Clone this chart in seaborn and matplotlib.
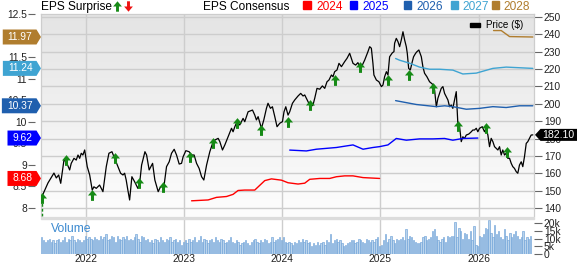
import numpy as np
import pandas as pd
import matplotlib
matplotlib.use("Agg")
import matplotlib.pyplot as plt
import seaborn as sns
from matplotlib.path import Path
from matplotlib.patches import Polygon, Rectangle
from matplotlib.colors import LinearSegmentedColormap

# ---------------- data ----------------
price_t = [2021.547, 2021.613, 2021.674, 2021.698, 2021.722, 2021.743, 2021.776, 2021.799, 2021.834, 2021.850,
           2021.878, 2021.901, 2021.919, 2021.936, 2021.952, 2021.969, 2021.987, 2022.013, 2022.038, 2022.064,
           2022.081, 2022.105, 2022.139, 2022.173, 2022.207, 2022.234, 2022.265, 2022.292, 2022.326, 2022.353,
           2022.377, 2022.394, 2022.410, 2022.427, 2022.445, 2022.468, 2022.496, 2022.512, 2022.529, 2022.547,
           2022.567, 2022.601, 2022.618, 2022.644, 2022.669, 2022.679, 2022.702, 2022.736, 2022.760, 2022.794,
           2022.821, 2022.848, 2022.872, 2022.899, 2022.923, 2022.950, 2022.974, 2022.990, 2023.018, 2023.051,
           2023.076, 2023.102, 2023.127, 2023.153, 2023.178, 2023.201, 2023.229, 2023.262, 2023.290, 2023.313,
           2023.347, 2023.364, 2023.391, 2023.415, 2023.448, 2023.483, 2023.499, 2023.517, 2023.540, 2023.567,
           2023.601, 2023.618, 2023.652, 2023.697, 2023.720, 2023.737, 2023.754, 2023.788, 2023.812, 2023.839,
           2023.855, 2023.880, 2023.900, 2023.924, 2023.947, 2023.975, 2024.002, 2024.018, 2024.036, 2024.059,
           2024.076, 2024.104, 2024.127, 2024.161, 2024.188, 2024.212, 2024.229, 2024.263, 2024.290, 2024.313,
           2024.331, 2024.354, 2024.382, 2024.409, 2024.433, 2024.456, 2024.476, 2024.501, 2024.517, 2024.534,
           2024.558, 2024.578, 2024.603, 2024.636, 2024.660, 2024.687, 2024.704, 2024.721, 2024.748, 2024.771,
           2024.789, 2024.816, 2024.840, 2024.873, 2024.891, 2024.908, 2024.924, 2024.934, 2024.959, 2024.985,
           2025.010, 2025.026, 2025.043, 2025.061, 2025.077, 2025.094, 2025.122, 2025.138, 2025.145, 2025.162,
           2025.179, 2025.196, 2025.213, 2025.230, 2025.247, 2025.264, 2025.274, 2025.288, 2025.305, 2025.325,
           2025.338, 2025.359, 2025.372, 2025.392, 2025.417, 2025.433, 2025.450, 2025.474, 2025.501, 2025.529,
           2025.552, 2025.570, 2025.586, 2025.603, 2025.620, 2025.637, 2025.654, 2025.671, 2025.688, 2025.705,
           2025.722, 2025.738, 2025.756, 2025.773, 2025.789, 2025.807, 2025.824, 2025.840, 2025.858, 2025.875,
           2025.901, 2025.926, 2025.942, 2025.959, 2025.977, 2025.993, 2026.010, 2026.038, 2026.061, 2026.078,
           2026.095, 2026.112, 2026.129, 2026.146, 2026.163, 2026.197, 2026.214, 2026.231, 2026.247, 2026.265,
           2026.282, 2026.298, 2026.316, 2026.333, 2026.349, 2026.366, 2026.384, 2026.400, 2026.417, 2026.435,
           2026.451, 2026.468, 2026.486, 2026.502, 2026.519, 2026.536, 2026.553]
price_v = [146.0, 154.4, 160.1, 157.3, 159.0, 154.2, 167.6, 166.6, 161.9, 165.7,
           168.6, 167.6, 170.5, 168.6, 171.5, 170.5, 173.4, 163.8, 159.0, 150.3,
           152.2, 151.3, 153.2, 149.4, 163.8, 171.5, 172.4, 168.6, 163.8, 160.0,
           159.0, 160.0, 156.1, 150.3, 144.6, 158.0, 155.1, 153.2, 151.3, 154.2,
           164.7, 172.4, 170.5, 161.9, 164.7, 165.7, 156.1, 149.4, 152.2, 152.2,
           163.8, 166.6, 171.5, 173.8, 170.5, 165.3, 165.7, 169.5, 173.0, 172.4,
           170.5, 170.5, 165.7, 162.8, 158.0, 156.1, 164.7, 172.4, 177.2, 179.1,
           180.1, 178.2, 173.4, 176.3, 181.0, 185.9, 183.9, 186.8, 189.7, 187.8,
           191.6, 189.7, 195.4, 196.4, 193.5, 190.7, 192.6, 185.9, 190.7, 197.4,
           200.3, 197.4, 198.3, 192.6, 186.8, 188.8, 189.7, 195.4, 198.3, 193.5,
           195.4, 200.3, 202.2, 204.5, 206.0, 204.5, 205.1, 201.2, 198.3, 199.3,
           203.2, 208.9, 208.4, 210.3, 208.9, 212.7, 213.7, 216.6, 215.6, 218.5,
           219.5, 223.3, 221.4, 224.3, 226.2, 229.1, 226.2, 223.3, 222.3, 223.7,
           221.4, 222.3, 225.2, 230.0, 232.9, 232.0, 223.3, 216.6, 213.7, 212.7,
           209.9, 210.8, 215.6, 218.5, 216.6, 227.1, 229.4, 230.0, 234.9, 237.7,
           235.8, 232.9, 236.8, 241.5, 236.8, 232.9, 229.1, 220.4, 219.5, 224.3,
           227.1, 229.1, 230.0, 231.0, 227.1, 221.4, 217.6, 215.6, 212.7, 211.4,
           208.0, 198.3, 203.2, 206.0, 208.9, 209.9, 206.0, 204.1, 202.2, 198.3,
           199.3, 197.4, 202.2, 207.0, 188.8, 186.8, 178.2, 181.0, 180.1, 182.0,
           182.6, 183.9, 184.9, 184.9, 185.9, 183.9, 185.9, 186.8, 183.9, 185.9,
           182.0, 175.3, 180.1, 178.2, 175.3, 173.4, 175.3, 170.5, 173.4, 170.5,
           171.5, 168.6, 168.6, 165.7, 163.8, 162.8, 160.9, 160.0, 164.7, 166.6,
           163.8, 169.5, 177.2, 178.2, 180.1, 182.0, 182.1]
last_price = 182.10

# EPS consensus by fiscal year
eps24_t = [2023.076, 2023.245, 2023.330, 2023.432, 2023.499, 2023.550, 2023.618, 2023.720, 2023.822, 2023.890,
           2023.992, 2024.059, 2024.161, 2024.229, 2024.280, 2024.382, 2024.483, 2024.552, 2024.636, 2024.721,
           2024.823, 2024.992]
eps24_v = [8.16, 8.18, 8.24, 8.26, 8.31, 8.40, 8.41, 8.41, 8.63, 8.67,
           8.64, 8.58, 8.55, 8.57, 8.66, 8.68, 8.68, 8.72, 8.74, 8.74,
           8.70, 8.68]
eps25_t = [2024.076, 2024.246, 2024.348, 2024.450, 2024.552, 2024.636, 2024.721, 2024.823, 2024.924, 2024.992,
           2025.077, 2025.162, 2025.264, 2025.399, 2025.534, 2025.654, 2025.738, 2025.840, 2025.993]
eps25_v = [9.34, 9.32, 9.36, 9.38, 9.40, 9.43, 9.46, 9.36, 9.40, 9.42,
           9.46, 9.61, 9.57, 9.60, 9.60, 9.61, 9.57, 9.61, 9.62]
eps26_t = [2025.155, 2025.366, 2025.570, 2025.654, 2025.738, 2025.875, 2026.010, 2026.146, 2026.282, 2026.417, 2026.553]
eps26_v = [10.49, 10.40, 10.35, 10.37, 10.35, 10.29, 10.31, 10.35, 10.33, 10.37, 10.37]
eps27_t = [2025.155, 2025.196, 2025.298, 2025.399, 2025.501, 2025.603, 2025.738, 2025.840, 2025.977, 2026.146, 2026.282, 2026.553]
eps27_v = [11.47, 11.43, 11.36, 11.27, 11.22, 11.22, 11.20, 11.11, 11.13, 11.24, 11.27, 11.24]
eps28_t = [2026.153, 2026.231, 2026.316, 2026.553]
eps28_v = [12.12, 12.12, 11.98, 11.97]

consensus_years = ["2024", "2025", "2026", "2027", "2028"]
consensus_colors = ["#ff0000", "#0000ff", "#1f5fae", "#3fa4d2", "#b07d2e"]
consensus_last = [8.68, 9.62, 10.37, 11.24, 11.97]

# EPS surprises (all positive) placed on the price line
surp_t = [2021.552, 2021.793, 2022.061, 2022.292, 2022.539, 2022.787, 2023.059, 2023.290, 2023.540, 2023.788,
          2024.059, 2024.287, 2024.541, 2024.789, 2025.077, 2025.288, 2025.535, 2025.789, 2026.078, 2026.288]
surp_v = [145.6, 167.6, 147.5, 168.6, 154.2, 152.2, 169.5, 177.2, 188.8, 184.9,
          189.7, 199.3, 213.7, 221.4, 213.7, 216.6, 208.9, 187.2, 185.9, 172.4]

# weekly volume (thousands)
vol_start = 2021.55
volume_k = [11, 9, 8, 9, 10, 8, 9, 7, 9, 10, 8, 9, 11, 8, 10, 9, 12, 9, 8, 10, 9, 8, 9,
            12, 10, 11, 10, 9, 11, 10, 9, 12, 10, 11, 13, 9, 10, 12, 11, 8, 12, 10, 9, 11, 10, 12, 9, 10, 9,
            11, 13, 10, 8, 12, 11, 9, 10, 8, 9, 7, 10, 9, 8, 11, 9, 8, 10, 9, 11, 8, 9, 10, 8, 9, 6,
            8, 9, 7, 10, 8, 9, 11, 8, 9, 12, 8, 10, 9, 7, 9, 10, 8, 11, 9, 8, 10, 9, 7, 8, 9, 11,
            8, 7, 9, 8, 6, 7, 8, 9, 7, 6, 8, 9, 10, 8, 7, 9, 8, 10, 9, 7, 8, 11, 8, 9, 10, 11,
            9, 11, 8, 7, 8, 7, 6, 8, 7, 9, 8, 10, 8, 9, 7, 8, 5, 7, 6, 8, 6, 7, 8, 6, 9, 8,
            13, 7, 9, 10, 8, 9, 7, 5, 6, 7, 8, 9, 9, 7, 8, 10, 9, 8, 7, 10, 9, 8, 9, 8, 10, 11,
            5, 6, 9, 13, 8, 10, 12, 9, 7, 10, 9, 10, 11, 9, 16, 10, 12, 11, 9, 8, 7, 7, 8, 11, 12, 9,
            10, 11, 15, 16, 12, 9, 8, 10, 11, 8, 12, 11, 12, 12, 21, 11, 17, 15, 10, 14, 13, 10, 15, 9, 18, 6,
            5, 12, 11, 13, 17, 16, 22, 14, 11, 19, 13, 15, 11, 10, 16, 12, 9, 14, 11, 13, 15, 12, 10, 11, 15, 9,
            11, 10, 12]

year_ticks = [2022, 2023, 2024, 2025, 2026]
year_labels = ["2022", "2023", "2024", "2025", "2026"]
price_ticks = [140, 150, 160, 170, 180, 190, 200, 210, 220, 230, 240, 250]
eps_ticks = [8, 8.5, 9, 9.5, 10, 10.5, 11, 11.5, 12, 12.5]
vol_ticks = [0, 5, 10, 15, 20]
vol_labels = ["0", "5k", "10k", "15k", "20k"]

# ---------------- styling ----------------
sns.set_style("white")
plt.rcParams['font.family'] = ['Liberation Sans', 'DejaVu Sans']

W, H = 579, 264
fig = plt.figure(figsize=(W / 100, H / 100), dpi=100)
fig.patch.set_facecolor("white")

def fx(px):
    return px / W

def fy(py):
    return 1 - py / H

L, R = 41, 533.5
TOP, PBOT = 14, 216.5
VTOP, VBOT = 219, 254
XMIN, XMAX = 2021.542, 2026.560
PMIN, PMAX = 135.08, 251.73
EMIN, EMAX = 7.795, 12.505

GRID = "#cdcdcd"
TICKC = "#666666"
LABC = "#222222"
FS = 7.4
GREEN = "#168a16"

ax_p = fig.add_axes([fx(L), fy(PBOT), fx(R) - fx(L), fy(TOP) - fy(PBOT)])
ax_v = fig.add_axes([fx(L), fy(VBOT), fx(R) - fx(L), fy(VTOP) - fy(VBOT)])
ax_e = ax_p.twinx()

# background gradient
grad = np.linspace(0, 1, 256).reshape(-1, 1)
cmap = LinearSegmentedColormap.from_list("bg", ["#e4e4e4", "#fdfdfd"])
ax_p.imshow(grad, extent=[XMIN, XMAX, PMIN, PMAX], aspect="auto", cmap=cmap, zorder=0, origin="upper")

ax_p.set_xlim(XMIN, XMAX)
ax_p.set_ylim(PMIN, PMAX)
ax_p.set_xticks(year_ticks)
ax_p.grid(True, color=GRID, lw=1.0, zorder=1)
ax_p.set_axisbelow(True)
for s in ["top", "left", "right"]:
    ax_p.spines[s].set_color(GRID)
    ax_p.spines[s].set_linewidth(0.9)
ax_p.spines["bottom"].set_visible(False)

# price line
sns.lineplot(x=price_t, y=price_v, ax=ax_p, color="black", lw=0.9, estimator=None,
             sort=False, legend=False, zorder=3)

# surprise arrows
arrow = Path([(-0.14, -0.5), (0.14, -0.5), (0.14, 0.0), (0.42, 0.0), (0.0, 0.5),
              (-0.42, 0.0), (-0.14, 0.0), (-0.14, -0.5)],
             [Path.MOVETO] + [Path.LINETO] * 6 + [Path.CLOSEPOLY])
ax_p.vlines(surp_t[0], PMIN, surp_v[0] - 2.5, colors=GREEN, linestyles=(0, (2, 1.5)), lw=1.0, zorder=4)
sns.scatterplot(x=surp_t, y=surp_v, ax=ax_p, marker=arrow, s=60, color=GREEN,
                linewidth=0, legend=False, zorder=5)

# price ticks on the right (after twinx)
ax_p.set_ylabel("")
ax_p.yaxis.tick_right()
ax_p.set_yticks(price_ticks)
ax_p.set_yticklabels([str(t) for t in price_ticks])
ax_p.tick_params(axis="y", right=True, left=False, labelright=True, labelleft=False, length=6, width=0.8,
                 color=TICKC, pad=1.5, labelsize=FS, labelcolor=LABC)
ax_p.tick_params(axis="x", bottom=False, labelbottom=False, length=0)

# EPS axis (left)
ax_e.set_ylim(EMIN, EMAX)
ax_e.set_xlim(XMIN, XMAX)
series = [(eps24_t, eps24_v), (eps25_t, eps25_v), (eps26_t, eps26_v), (eps27_t, eps27_v), (eps28_t, eps28_v)]
for (tt, vv), c in zip(series, consensus_colors):
    sns.lineplot(x=tt, y=vv, ax=ax_e, color=c, lw=1.0, estimator=None, sort=False, legend=False, zorder=3)
ax_e.yaxis.tick_left()
ax_e.set_yticks(eps_ticks)
ax_e.set_yticklabels([f"{t:g}" for t in eps_ticks])
ax_e.tick_params(axis="y", left=True, right=False, labelleft=True, labelright=False, length=5, width=0.8,
                 color=TICKC, pad=1, labelsize=FS, labelcolor=LABC)
ax_e.tick_params(axis="x", bottom=False, labelbottom=False, length=0)
ax_e.spines["left"].set_position(("outward", 4))
for s in ax_e.spines.values():
    s.set_visible(False)
ax_e.grid(False)
ax_e.set_ylabel("")

# volume panel
vol_t = vol_start + np.arange(len(volume_k)) / 52.0
ax_v.bar(vol_t, volume_k, width=0.0135, color="#b9d3ec", edgecolor="#6fa3d8", linewidth=0.45, zorder=2)
ax_v.set_xlim(XMIN, XMAX)
ax_v.set_ylim(0, 22.8)
ax_v.set_xticks(year_ticks)
ax_v.set_xticklabels(year_labels)
ax_v.set_yticks(vol_ticks)
ax_v.set_yticklabels(vol_labels)
ax_v.yaxis.tick_right()
ax_v.grid(axis="x", color=GRID, lw=1.0, zorder=1)
ax_v.grid(axis="y", visible=False)
ax_v.set_axisbelow(True)
ax_v.tick_params(axis="y", right=True, left=False, length=6, width=0.8, color=TICKC, pad=1.5,
                 labelsize=FS, labelcolor=LABC)
ax_v.tick_params(axis="x", bottom=False, length=0, pad=0.3, labelsize=FS, labelcolor=LABC)
for s in ax_v.spines.values():
    s.set_visible(False)
ax_v.set_facecolor("white")

# separator band
fig.patches.append(Rectangle((fx(L), fy(VTOP)), fx(R) - fx(L), (VTOP - PBOT) / H,
                             transform=fig.transFigure, color="#dcdcdc", zorder=1))

fig.text(fx(51), fy(229.5), "Volume", color="#3c8ad0", fontsize=8.7, va="center", ha="left")

# header legend
fig.text(fx(41), fy(10.3), "EPS Surprise", fontsize=8.6, va="baseline", ha="left", color="black")
down_marker = Path([(x, -y) for (x, y) in arrow.vertices], arrow.codes)
fig.lines.append(plt.Line2D([fx(116.7)], [fy(6.3)], marker=arrow, markersize=7.5, color=GREEN,
                            markeredgewidth=0, transform=fig.transFigure, linestyle="none"))
fig.lines.append(plt.Line2D([fx(127.8)], [fy(6.3)], marker=down_marker, markersize=7.5, color="#ee1111",
                            markeredgewidth=0, transform=fig.transFigure, linestyle="none"))
fig.text(fx(203), fy(10.3), "EPS Consensus", fontsize=8.6, va="baseline", ha="left", color="black")
sq_x = [303.3, 350.0, 404.0, 450.5, 491.7]
tx_x = [316.7, 362.7, 416.7, 462.0, 503.3]
for yr, c, sx, tx in zip(consensus_years, consensus_colors, sq_x, tx_x):
    fig.patches.append(Rectangle((fx(sx), fy(8.6)), 7.2 / W, 7.2 / H, transform=fig.transFigure,
                                 color=c, zorder=3))
    fig.text(fx(tx), fy(10.3), yr, fontsize=8.6, va="baseline", ha="left", color=c)

# Price legend
fig.patches.append(Rectangle((fx(470), fy(27.3)), 10 / W, 4.2 / H, transform=fig.transFigure,
                             color="black", zorder=3))
fig.text(fx(485.5), fy(25.3), "Price ($)", fontsize=7.1, va="center", ha="left", color="black")

# badges
renderer = fig.canvas.get_renderer()

def left_badge(val, color):
    ydisp = ax_e.transData.transform((XMIN, val))[1]
    t = fig.text(0, ydisp / H, f"{val:.2f}", color="white", fontsize=7.4, ha="center", va="center", zorder=11)
    w = t.get_window_extent(renderer).width
    tip, br = 41.0, 36.5
    bl = br - w - 9.0
    h = 7.5
    pts = [(bl, ydisp - h), (br, ydisp - h), (tip, ydisp), (br, ydisp + h), (bl, ydisp + h)]
    fig.patches.append(Polygon([(x / W, y / H) for x, y in pts], closed=True, transform=fig.transFigure,
                               facecolor=color, edgecolor="none", zorder=10))
    t.set_position(((bl + br) / 2 / W + 0.4 / W, ydisp / H))

for v, c in zip(consensus_last, consensus_colors):
    left_badge(v, c)

ydisp = ax_p.transData.transform((XMAX, last_price))[1]
h = 6.0
pts = [(535.0, ydisp), (540.5, ydisp + h), (577.0, ydisp + h), (577.0, ydisp - h), (540.5, ydisp - h)]
fig.patches.append(Polygon([(x / W, y / H) for x, y in pts], closed=True, transform=fig.transFigure,
                           facecolor="black", edgecolor="none", zorder=10))
fig.text((540.5 + 577.0) / 2 / W, ydisp / H, f"{last_price:.2f}", color="white", fontsize=7.6,
         ha="center", va="center", zorder=11)

fig.savefig("out.png", dpi=100, facecolor="white")
